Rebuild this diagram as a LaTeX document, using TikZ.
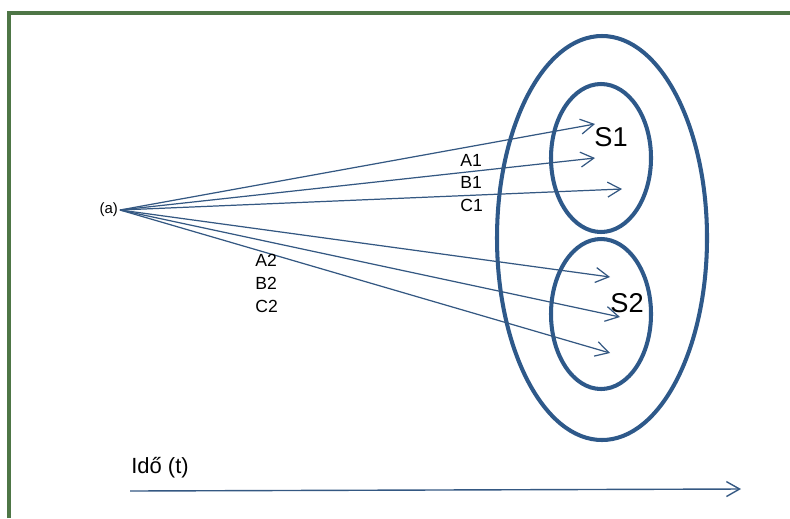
\documentclass[tikz,border=0pt]{standalone}
\usepackage{fontspec}
\setmainfont{Liberation Sans}
\usetikzlibrary{arrows.meta, positioning}

\definecolor{setblue}{RGB}{46,89,138}
\definecolor{rayblue}{RGB}{52,88,130}
\definecolor{frame}{RGB}{78,118,70}

\begin{document}
\begin{tikzpicture}[
            x=0.02cm, y=-0.02cm,
            setline/.style={draw=setblue, line width=2.3pt},
            ray/.style={-{Straight Barb[length=7.5pt, width=8.5pt]}, draw=rayblue, line width=0.7pt},
            lbl/.style={font=\fontsize{10}{12}\selectfont, anchor=west, inner sep=0pt}
        ]
        \useasboundingbox (0,0) rectangle (790,518);

        % --- frame ---
        \draw[frame, line width=2.2pt] (9,518) -- (9,13) -- (790,13);

        % --- sets ---
        \draw[setline] (602,238) ellipse [x radius=105, y radius=202];
        \draw[setline] (601,158) ellipse [x radius=50, y radius=74];
        \draw[setline] (601,314) ellipse [x radius=50, y radius=75];
        \node[font=\fontsize{15.5}{17}\selectfont] (S1) at (611,137) {S1};
        \node[font=\fontsize{15.5}{17}\selectfont] (S2) at (627,303) {S2};

        % --- source and rays ---
        \coordinate (src) at (120,210);
        \node[font=\fontsize{8.5}{10}\selectfont, anchor=east, inner sep=1pt] (a) at (src) {(a)};
        \coordinate (t1) at (595,124);
        \coordinate (t2) at (595,158);
        \coordinate (t3) at (622,189);
        \coordinate (t4) at (610,277);
        \coordinate (t5) at (620,317);
        \coordinate (t6) at (610,353);
        \foreach \t in {t1,t2,t3,t4,t5,t6}
            \draw[ray] (src) -- (\t);

        \node[lbl] (A1) at (460,160) {A1};
        \node[lbl] (B1) at (460,182) {B1};
        \node[lbl] (C1) at (460,205) {C1};
        \node[lbl] (A2) at (255,260) {A2};
        \node[lbl] (B2) at (255,283) {B2};
        \node[lbl] (C2) at (255,306) {C2};

        % --- time axis ---
        \node[font=\fontsize{12.5}{14}\selectfont, anchor=west, inner sep=0pt] (ido) at (131,468) {Idő (t)};
        \coordinate (t0) at (130,491);
        \coordinate (tend) at (741,489);
        \draw[ray, line width=0.8pt] (t0) -- (tend);

        \end{tikzpicture}
\end{document}
